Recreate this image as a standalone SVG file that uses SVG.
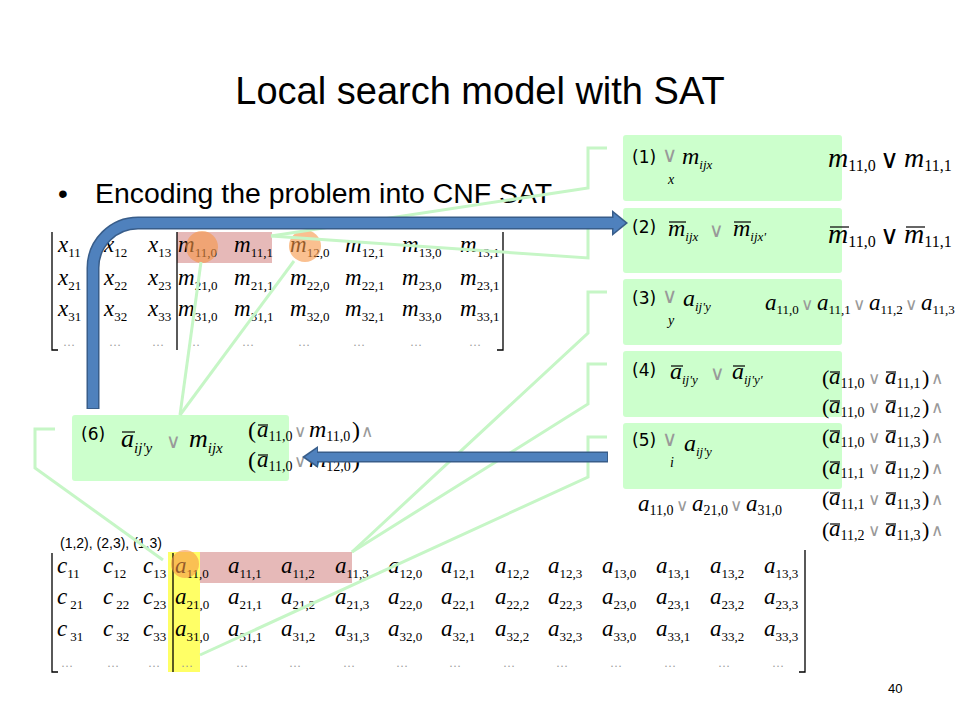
<svg xmlns="http://www.w3.org/2000/svg" width="960" height="720" viewBox="0 0 960 720">
<defs>
<style>
.sans{font-family:"Liberation Sans",Arial,sans-serif;fill:#000;}
.lbl{font-family:"DejaVu Sans",Verdana,sans-serif;font-size:17px;fill:#000;}
.mi{font-family:"Liberation Serif","Times New Roman",serif;font-style:italic;font-size:23px;fill:#000;}
.sb{font-style:normal;font-size:13px;}
.si{font-style:italic;font-size:13px;}
.op{font-family:"DejaVu Sans",sans-serif;fill:#999;font-size:17px;}
.opk{font-family:"DejaVu Sans",sans-serif;fill:#000;font-size:26px;}
.rp{font-family:"Liberation Serif","Times New Roman",serif;font-size:22px;fill:#000;}
.dots{font-family:"Liberation Serif",serif;font-size:12px;fill:#999;}
.box{fill:#ccffcc;}
.ol{stroke:#000;stroke-width:1.2;}
.br{fill:none;stroke:#000;stroke-width:1.3;}
.gl{fill:none;stroke:#c6f6c6;stroke-width:3;}
.circ{fill:#f79646;fill-opacity:0.6;}
</style>
</defs>
<rect width="960" height="720" fill="#fff"/>

<g id="title">
<text class="sans" x="480" y="104" text-anchor="middle" font-size="38">Local search model with SAT</text>
</g>
<g id="bullet">
<text class="sans" x="58" y="203" font-size="28">•</text>
<text class="sans" x="95" y="203" font-size="28.4">Encoding the problem into CNF SAT</text>
</g>

<g id="matrix-top">
<rect x="177" y="232" width="95" height="31" fill="#e6b9b8"/>
<path class="br" d="M52,232 V350 H58"/>
<path class="br" d="M503,232 V350 H497"/>
<line class="br" x1="177" y1="232" x2="177" y2="350"/>
<text class="mi" x="58" y="252">x<tspan class="sb" dy="5">11</tspan></text>
<text class="mi" x="104" y="252">x<tspan class="sb" dy="5">12</tspan></text>
<text class="mi" x="148" y="252">x<tspan class="sb" dy="5">13</tspan></text>
<text class="mi" x="178" y="252">m<tspan class="sb" dy="5">11,0</tspan></text>
<text class="mi" x="234" y="252">m<tspan class="sb" dy="5">11,1</tspan></text>
<text class="mi" x="290" y="252">m<tspan class="sb" dy="5">12,0</tspan></text>
<text class="mi" x="345" y="252">m<tspan class="sb" dy="5">12,1</tspan></text>
<text class="mi" x="402" y="252">m<tspan class="sb" dy="5">13,0</tspan></text>
<text class="mi" x="460" y="252">m<tspan class="sb" dy="5">13,1</tspan></text>
<text class="mi" x="58" y="285">x<tspan class="sb" dy="5">21</tspan></text>
<text class="mi" x="104" y="285">x<tspan class="sb" dy="5">22</tspan></text>
<text class="mi" x="148" y="285">x<tspan class="sb" dy="5">23</tspan></text>
<text class="mi" x="178" y="285">m<tspan class="sb" dy="5">21,0</tspan></text>
<text class="mi" x="234" y="285">m<tspan class="sb" dy="5">21,1</tspan></text>
<text class="mi" x="290" y="285">m<tspan class="sb" dy="5">22,0</tspan></text>
<text class="mi" x="345" y="285">m<tspan class="sb" dy="5">22,1</tspan></text>
<text class="mi" x="402" y="285">m<tspan class="sb" dy="5">23,0</tspan></text>
<text class="mi" x="460" y="285">m<tspan class="sb" dy="5">23,1</tspan></text>
<text class="mi" x="58" y="316">x<tspan class="sb" dy="5">31</tspan></text>
<text class="mi" x="104" y="316">x<tspan class="sb" dy="5">32</tspan></text>
<text class="mi" x="148" y="316">x<tspan class="sb" dy="5">33</tspan></text>
<text class="mi" x="178" y="316">m<tspan class="sb" dy="5">31,0</tspan></text>
<text class="mi" x="234" y="316">m<tspan class="sb" dy="5">31,1</tspan></text>
<text class="mi" x="290" y="316">m<tspan class="sb" dy="5">32,0</tspan></text>
<text class="mi" x="345" y="316">m<tspan class="sb" dy="5">32,1</tspan></text>
<text class="mi" x="402" y="316">m<tspan class="sb" dy="5">33,0</tspan></text>
<text class="mi" x="460" y="316">m<tspan class="sb" dy="5">33,1</tspan></text>
<text class="dots" x="63" y="346">…</text>
<text class="dots" x="109" y="346">…</text>
<text class="dots" x="152" y="346">…</text>
<text class="dots" x="188" y="346">…</text>
<text class="dots" x="242" y="346">…</text>
<text class="dots" x="298" y="346">…</text>
<text class="dots" x="353" y="346">…</text>
<text class="dots" x="410" y="346">…</text>
<text class="dots" x="469" y="346">…</text>
<circle class="circ" cx="202" cy="247" r="16"/>
<circle class="circ" cx="305" cy="246" r="16"/>
</g>

<g id="matrix-bottom">
<text class="sans" x="60" y="548" font-size="14">(1,2), (2,3), (1,3)</text>
<rect x="168" y="552" width="32" height="120" fill="#ffff66"/>
<rect x="200" y="552" width="152" height="31" fill="#e6b9b8"/>
<path class="br" d="M52,553 V672 H58"/>
<path class="br" d="M805,550 V672 H799"/>
<line class="br" x1="173" y1="553" x2="173" y2="672"/>
<text class="mi" x="57" y="573">c<tspan class="sb" dy="5">11</tspan></text>
<text class="mi" x="103" y="573">c<tspan class="sb" dy="5">12</tspan></text>
<text class="mi" x="143" y="573">c<tspan class="sb" dy="5">13</tspan></text>
<text class="mi" x="175" y="573">a<tspan class="sb" dy="5">11,0</tspan></text>
<text class="mi" x="228" y="573">a<tspan class="sb" dy="5">11,1</tspan></text>
<text class="mi" x="281" y="573">a<tspan class="sb" dy="5">11,2</tspan></text>
<text class="mi" x="335" y="573">a<tspan class="sb" dy="5">11,3</tspan></text>
<text class="mi" x="388" y="573">a<tspan class="sb" dy="5">12,0</tspan></text>
<text class="mi" x="441" y="573">a<tspan class="sb" dy="5">12,1</tspan></text>
<text class="mi" x="495" y="573">a<tspan class="sb" dy="5">12,2</tspan></text>
<text class="mi" x="548" y="573">a<tspan class="sb" dy="5">12,3</tspan></text>
<text class="mi" x="602" y="573">a<tspan class="sb" dy="5">13,0</tspan></text>
<text class="mi" x="656" y="573">a<tspan class="sb" dy="5">13,1</tspan></text>
<text class="mi" x="710" y="573">a<tspan class="sb" dy="5">13,2</tspan></text>
<text class="mi" x="764" y="573">a<tspan class="sb" dy="5">13,3</tspan></text>
<text class="mi" x="57" y="604">c<tspan class="sb" dx="3" dy="5">21</tspan></text>
<text class="mi" x="103" y="604">c<tspan class="sb" dx="3" dy="5">22</tspan></text>
<text class="mi" x="143" y="604">c<tspan class="sb" dy="5">23</tspan></text>
<text class="mi" x="175" y="604">a<tspan class="sb" dy="5">21,0</tspan></text>
<text class="mi" x="228" y="604">a<tspan class="sb" dy="5">21,1</tspan></text>
<text class="mi" x="281" y="604">a<tspan class="sb" dy="5">21,2</tspan></text>
<text class="mi" x="335" y="604">a<tspan class="sb" dy="5">21,3</tspan></text>
<text class="mi" x="388" y="604">a<tspan class="sb" dy="5">22,0</tspan></text>
<text class="mi" x="441" y="604">a<tspan class="sb" dy="5">22,1</tspan></text>
<text class="mi" x="495" y="604">a<tspan class="sb" dy="5">22,2</tspan></text>
<text class="mi" x="548" y="604">a<tspan class="sb" dy="5">22,3</tspan></text>
<text class="mi" x="602" y="604">a<tspan class="sb" dy="5">23,0</tspan></text>
<text class="mi" x="656" y="604">a<tspan class="sb" dy="5">23,1</tspan></text>
<text class="mi" x="710" y="604">a<tspan class="sb" dy="5">23,2</tspan></text>
<text class="mi" x="764" y="604">a<tspan class="sb" dy="5">23,3</tspan></text>
<text class="mi" x="57" y="636">c<tspan class="sb" dx="3" dy="5">31</tspan></text>
<text class="mi" x="103" y="636">c<tspan class="sb" dx="3" dy="5">32</tspan></text>
<text class="mi" x="143" y="636">c<tspan class="sb" dy="5">33</tspan></text>
<text class="mi" x="175" y="636">a<tspan class="sb" dy="5">31,0</tspan></text>
<text class="mi" x="228" y="636">a<tspan class="sb" dy="5">31,1</tspan></text>
<text class="mi" x="281" y="636">a<tspan class="sb" dy="5">31,2</tspan></text>
<text class="mi" x="335" y="636">a<tspan class="sb" dy="5">31,3</tspan></text>
<text class="mi" x="388" y="636">a<tspan class="sb" dy="5">32,0</tspan></text>
<text class="mi" x="441" y="636">a<tspan class="sb" dy="5">32,1</tspan></text>
<text class="mi" x="495" y="636">a<tspan class="sb" dy="5">32,2</tspan></text>
<text class="mi" x="548" y="636">a<tspan class="sb" dy="5">32,3</tspan></text>
<text class="mi" x="602" y="636">a<tspan class="sb" dy="5">33,0</tspan></text>
<text class="mi" x="656" y="636">a<tspan class="sb" dy="5">33,1</tspan></text>
<text class="mi" x="710" y="636">a<tspan class="sb" dy="5">33,2</tspan></text>
<text class="mi" x="764" y="636">a<tspan class="sb" dy="5">33,3</tspan></text>
<text class="dots" x="61" y="667">…</text>
<text class="dots" x="107" y="667">…</text>
<text class="dots" x="148" y="667">…</text>
<text class="dots" x="181" y="667">…</text>
<text class="dots" x="236" y="667">…</text>
<text class="dots" x="289" y="667">…</text>
<text class="dots" x="343" y="667">…</text>
<text class="dots" x="396" y="667">…</text>
<text class="dots" x="449" y="667">…</text>
<text class="dots" x="503" y="667">…</text>
<text class="dots" x="556" y="667">…</text>
<text class="dots" x="610" y="667">…</text>
<text class="dots" x="664" y="667">…</text>
<text class="dots" x="718" y="667">…</text>
<text class="dots" x="772" y="667">…</text>
<circle class="circ" cx="185" cy="564" r="14"/>
</g>

<g id="box1">
<rect class="box" x="623" y="135" width="219" height="66" rx="3"/>
<text class="lbl" x="632" y="163">(1)</text>
<text class="op" x="662" y="162" style="font-size:21px">∨</text>
<text class="mi" x="668" y="184" style="font-size:14px">x</text>
<text class="mi" x="682" y="164" style="font-size:24px">m<tspan class="si" dy="5">ijx</tspan></text>
<text class="mi" x="828" y="167" style="font-size:28px">m<tspan class="sb" dy="4" style="font-size:16px">11,0</tspan></text>
<text class="opk" x="880" y="168">∨</text>
<text class="mi" x="904" y="167" style="font-size:28px">m<tspan class="sb" dy="4" style="font-size:16px">11,1</tspan></text>
</g>

<g id="box2">
<rect class="box" x="623" y="208" width="219" height="65" rx="3"/>
<text class="lbl" x="632" y="233">(2)</text>
<text class="mi" x="668" y="236" style="font-size:24px">m<tspan class="si" dy="5">ijx</tspan></text>
<line class="ol" x1="669" y1="222" x2="686" y2="222"/>
<text class="op" x="709" y="237" style="font-size:20px">∨</text>
<text class="mi" x="733" y="236" style="font-size:24px">m<tspan class="si" dy="5">ijx'</tspan></text>
<line class="ol" x1="734" y1="222" x2="751" y2="222"/>
<text class="mi" x="828" y="243" style="font-size:28px">m<tspan class="sb" dy="4" style="font-size:16px">11,0</tspan></text>
<line class="ol" x1="830" y1="227" x2="849" y2="227"/>
<text class="opk" x="880" y="244">∨</text>
<text class="mi" x="904" y="243" style="font-size:28px">m<tspan class="sb" dy="4" style="font-size:16px">11,1</tspan></text>
<line class="ol" x1="906" y1="227" x2="925" y2="227"/>
</g>

<g id="box3">
<rect class="box" x="623" y="279" width="219" height="66" rx="3"/>
<text class="lbl" x="632" y="304">(3)</text>
<text class="op" x="662" y="303" style="font-size:21px">∨</text>
<text class="mi" x="668" y="325" style="font-size:14px">y</text>
<text class="mi" x="683" y="306" style="font-size:24px">a<tspan class="si" dy="5">ij'y</tspan></text>
<text class="mi" x="765" y="310">a<tspan class="sb" dy="4">11,0</tspan></text>
<text class="op" x="801" y="310">∨</text>
<text class="mi" x="817" y="310">a<tspan class="sb" dy="4">11,1</tspan></text>
<text class="op" x="853" y="310">∨</text>
<text class="mi" x="869" y="310">a<tspan class="sb" dy="4">11,2</tspan></text>
<text class="op" x="905" y="310">∨</text>
<text class="mi" x="921" y="310">a<tspan class="sb" dy="4">11,3</tspan></text>
</g>

<g id="box4">
<rect class="box" x="623" y="351" width="219" height="66" rx="3"/>
<text class="lbl" x="632" y="376">(4)</text>
<text class="mi" x="670" y="379" style="font-size:24px">a<tspan class="si" dy="5">ij'y</tspan></text>
<line class="ol" x1="671" y1="366" x2="683" y2="366"/>
<text class="op" x="710" y="380" style="font-size:20px">∨</text>
<text class="mi" x="732" y="379" style="font-size:24px">a<tspan class="si" dy="5">ij'y'</tspan></text>
<line class="ol" x1="733" y1="366" x2="745" y2="366"/>
</g>

<g id="box5">
<rect class="box" x="623" y="423" width="219" height="66" rx="3"/>
<text class="lbl" x="632" y="446">(5)</text>
<text class="op" x="662" y="446" style="font-size:21px">∨</text>
<text class="mi" x="670" y="467" style="font-size:14px">i</text>
<text class="mi" x="684" y="451" style="font-size:24px">a<tspan class="si" dy="5">ij'y</tspan></text>
<text class="mi" x="638" y="511">a<tspan class="sb" dy="4" style="font-size:14px">11,0</tspan></text>
<text class="op" x="676" y="511">∨</text>
<text class="mi" x="692" y="511">a<tspan class="sb" dy="4" style="font-size:14px">21,0</tspan></text>
<text class="op" x="730" y="511">∨</text>
<text class="mi" x="746" y="511">a<tspan class="sb" dy="4" style="font-size:14px">31,0</tspan></text>
</g>

<g id="pairs">
<text class="rp" x="822" y="385">(</text>
<text class="mi" x="829" y="384">a<tspan class="sb" dy="4" style="font-size:14px">11,0</tspan></text>
<line class="ol" x1="830" y1="372" x2="840" y2="372"/>
<text class="op" x="868" y="384">∨</text>
<text class="mi" x="885" y="384">a<tspan class="sb" dy="4" style="font-size:14px">11,1</tspan></text>
<line class="ol" x1="886" y1="372" x2="896" y2="372"/>
<text class="rp" x="922" y="385">)</text>
<text class="op" x="931" y="384">∧</text>

<text class="rp" x="822" y="414">(</text>
<text class="mi" x="829" y="413">a<tspan class="sb" dy="4" style="font-size:14px">11,0</tspan></text>
<line class="ol" x1="830" y1="401" x2="840" y2="401"/>
<text class="op" x="868" y="413">∨</text>
<text class="mi" x="885" y="413">a<tspan class="sb" dy="4" style="font-size:14px">11,2</tspan></text>
<line class="ol" x1="886" y1="401" x2="896" y2="401"/>
<text class="rp" x="922" y="414">)</text>
<text class="op" x="931" y="413">∧</text>

<text class="rp" x="822" y="444">(</text>
<text class="mi" x="829" y="443">a<tspan class="sb" dy="4" style="font-size:14px">11,0</tspan></text>
<line class="ol" x1="830" y1="431" x2="840" y2="431"/>
<text class="op" x="868" y="443">∨</text>
<text class="mi" x="885" y="443">a<tspan class="sb" dy="4" style="font-size:14px">11,3</tspan></text>
<line class="ol" x1="886" y1="431" x2="896" y2="431"/>
<text class="rp" x="922" y="444">)</text>
<text class="op" x="931" y="443">∧</text>

<text class="rp" x="822" y="475">(</text>
<text class="mi" x="829" y="474">a<tspan class="sb" dy="4" style="font-size:14px">11,1</tspan></text>
<line class="ol" x1="830" y1="462" x2="840" y2="462"/>
<text class="op" x="868" y="474">∨</text>
<text class="mi" x="885" y="474">a<tspan class="sb" dy="4" style="font-size:14px">11,2</tspan></text>
<line class="ol" x1="886" y1="462" x2="896" y2="462"/>
<text class="rp" x="922" y="475">)</text>
<text class="op" x="931" y="474">∧</text>

<text class="rp" x="822" y="506">(</text>
<text class="mi" x="829" y="505">a<tspan class="sb" dy="4" style="font-size:14px">11,1</tspan></text>
<line class="ol" x1="830" y1="493" x2="840" y2="493"/>
<text class="op" x="868" y="505">∨</text>
<text class="mi" x="885" y="505">a<tspan class="sb" dy="4" style="font-size:14px">11,3</tspan></text>
<line class="ol" x1="886" y1="493" x2="896" y2="493"/>
<text class="rp" x="922" y="506">)</text>
<text class="op" x="931" y="505">∧</text>

<text class="rp" x="822" y="537">(</text>
<text class="mi" x="829" y="536">a<tspan class="sb" dy="4" style="font-size:14px">11,2</tspan></text>
<line class="ol" x1="830" y1="524" x2="840" y2="524"/>
<text class="op" x="868" y="536">∨</text>
<text class="mi" x="885" y="536">a<tspan class="sb" dy="4" style="font-size:14px">11,3</tspan></text>
<line class="ol" x1="886" y1="524" x2="896" y2="524"/>
<text class="rp" x="922" y="537">)</text>
<text class="op" x="931" y="536">∧</text>
</g>

<g id="box6">
<rect class="box" x="72" y="415" width="217" height="66" rx="3"/>
<text class="lbl" x="81" y="440">(6)</text>
<text class="mi" x="121" y="447" style="font-size:26px">a<tspan class="si" dy="6" style="font-size:15px">ij'y</tspan></text>
<line class="ol" x1="122" y1="432" x2="135" y2="432"/>
<text class="op" x="166" y="448" style="font-size:20px">∨</text>
<text class="mi" x="189" y="447" style="font-size:26px">m<tspan class="si" dy="6" style="font-size:15px">ijx</tspan></text>
<text class="rp" x="248" y="438" style="font-size:24px">(</text>
<text class="mi" x="257" y="437">a<tspan class="sb" dy="4" style="font-size:14px">11,0</tspan></text>
<line class="ol" x1="258" y1="425" x2="268" y2="425"/>
<text class="op" x="294" y="437">∨</text>
<text class="mi" x="309" y="437" style="font-size:24px">m<tspan class="sb" dy="4" style="font-size:14px">11,0</tspan></text>
<text class="rp" x="352" y="438" style="font-size:24px">)</text>
<text class="op" x="361" y="437">∧</text>
<text class="rp" x="248" y="468" style="font-size:24px">(</text>
<text class="mi" x="257" y="467">a<tspan class="sb" dy="4" style="font-size:14px">11,0</tspan></text>
<line class="ol" x1="258" y1="455" x2="268" y2="455"/>
<text class="op" x="294" y="467">∨</text>
<text class="mi" x="309" y="467" style="font-size:24px">m<tspan class="sb" dy="4" style="font-size:14px">12,0</tspan></text>
<text class="rp" x="352" y="468" style="font-size:24px">)</text>
</g>

<g id="connectors">
<path class="gl" d="M271,236 L588,188 L588,148 L607,148"/>
<path class="gl" d="M271,236 L588,258 L588,222 L607,222"/>
<path class="gl" d="M352,552 L588,333 L588,292 L607,292"/>
<path class="gl" d="M352,552 L588,404 L588,364 L607,364"/>
<path class="gl" d="M200,655 L588,477 L588,437 L607,437"/>
<path class="gl" d="M163,560 L35,468 L35,429 L55,429"/>
<path class="gl" d="M201,262 L180,415"/>
<path class="gl" d="M294,261 L180,415"/>
<g id="arrow-loop">
<path d="M93,409 V268 A45,45 0 0 1 138,223 H614" fill="none" stroke="#385d8a" stroke-width="13"/>
<polygon points="612,210 628,223 612,236" fill="#385d8a"/>
<path d="M93,408 V268 A45,45 0 0 1 138,223 H614" fill="none" stroke="#4f81bd" stroke-width="10"/>
<polygon points="613.5,213 625.5,223 613.5,233" fill="#4f81bd"/>
</g>
<g id="arrow-left">
<path d="M608,457 H316" fill="none" stroke="#385d8a" stroke-width="11"/>
<polygon points="318,446 302,457 318,468" fill="#385d8a"/>
<path d="M607,457 H316" fill="none" stroke="#4f81bd" stroke-width="8"/>
<polygon points="317,448.5 305,457 317,465.5" fill="#4f81bd"/>
</g>
</g>

<g id="page-number">
<text class="sans" x="888" y="693" font-size="13" fill="#8c8c8c">40</text>
</g>
</svg>
